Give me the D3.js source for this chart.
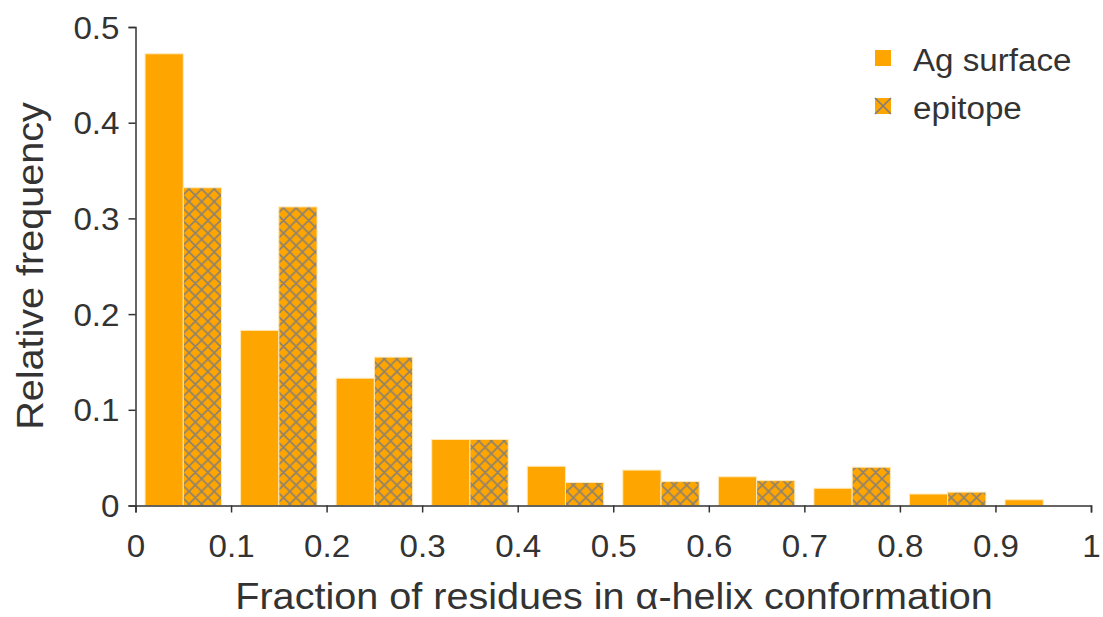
<!DOCTYPE html>
<html>
<head>
<meta charset="utf-8">
<script src="https://cdn.jsdelivr.net/npm/d3@7"></script>
<style>
  html, body { margin: 0; padding: 0; background: #fff; }
  svg { display: block; }
  text { font-family: "Liberation Sans", Arial, sans-serif; fill: #333; }
</style>
</head>
<body>
<svg id="chart" width="1103" height="617"></svg>
<script>
// Histogram bins (lower edge of each 0.1-wide bin)
const binStarts = [0, 0.1, 0.2, 0.3, 0.4, 0.5, 0.6, 0.7, 0.8, 0.9];
// Relative frequency per bin
const agSurface = [0.472, 0.183, 0.133, 0.069, 0.041, 0.037, 0.030, 0.018, 0.012, 0.006];
const epitope   = [0.332, 0.312, 0.155, 0.069, 0.024, 0.025, 0.026, 0.040, 0.014, 0];
const seriesNames = ["Ag surface", "epitope"];
const xTicks = [0, 0.1, 0.2, 0.3, 0.4, 0.5, 0.6, 0.7, 0.8, 0.9, 1];
const yTicks = [0, 0.1, 0.2, 0.3, 0.4, 0.5];

const orange = "#FFA500";
const axisColor = "#333";
const textStretch = 1.07;   // slightly wide lettering

const svg = d3.select("#chart");

const x = d3.scaleLinear().domain([0, 1]).range([135.5, 1091]);
const y = d3.scaleLinear().domain([0, 0.5]).range([505.5, 27]);

// Cross-hatch pattern for the epitope bars
const defs = svg.append("defs");
const pat = defs.append("pattern")
  .attr("id", "hatch")
  .attr("patternUnits", "userSpaceOnUse")
  .attr("width", 12.6).attr("height", 12.6);
pat.append("rect").attr("width", 12.6).attr("height", 12.6).attr("fill", orange);
pat.append("path")
  .attr("d", "M0,0L12.6,12.6M0,12.6L12.6,0M-1,1L1,-1M11.6,13.6L13.6,11.6M-1,11.6L1,13.6M11.6,-1L13.6,1")
  .attr("stroke", "#7d7d7d").attr("stroke-width", 1.6).attr("stroke-opacity", 0.9);

const rows = binStarts.map((b, i) => ({ b, ag: agSurface[i], ep: epitope[i] }));

// Ag surface bars: left half of each bin
svg.append("g").selectAll("rect")
  .data(rows)
  .join("rect")
  .attr("x", d => x(d.b + 0.01))
  .attr("width", d => x(d.b + 0.05) - x(d.b + 0.01))
  .attr("y", d => y(d.ag))
  .attr("height", d => y(0) - y(d.ag))
  .attr("fill", orange)
  .attr("stroke", "#ffe9b8").attr("stroke-width", 1);

// epitope bars: right half of each bin
svg.append("g").selectAll("rect")
  .data(rows.filter(d => d.ep > 0))
  .join("rect")
  .attr("x", d => x(d.b + 0.05))
  .attr("width", d => x(d.b + 0.09) - x(d.b + 0.05))
  .attr("y", d => y(d.ep))
  .attr("height", d => y(0) - y(d.ep))
  .attr("fill", "url(#hatch)")
  .attr("stroke", "#ffe9b8").attr("stroke-width", 1);

// Axes
const fmt = d => d === 0 ? "0" : d === 1 ? "1" : d3.format(".1f")(d);

const xAxis = svg.append("g")
  .attr("transform", `translate(0,${y(0)})`)
  .call(d3.axisBottom(x).tickValues(xTicks).tickFormat(fmt).tickSizeOuter(0).tickSize(7));
const yAxis = svg.append("g")
  .attr("transform", `translate(${x(0)},0)`)
  .call(d3.axisLeft(y).tickValues(yTicks).tickFormat(fmt).tickSizeOuter(0).tickSize(7));

[xAxis, yAxis].forEach(g => {
  g.select(".domain").attr("stroke", axisColor).attr("stroke-width", 1.5);
  g.selectAll(".tick line").attr("stroke", axisColor).attr("stroke-width", 1.5);
  g.selectAll(".tick text")
    .attr("fill", "#333")
    .style("font-family", '"Liberation Sans", Arial, sans-serif')
    .style("font-size", "31px");
});
xAxis.selectAll(".tick text")
  .attr("x", 0).attr("y", 0).attr("dy", null)
  .attr("transform", `translate(0,51) scale(${textStretch},1)`);
yAxis.selectAll(".tick text")
  .attr("x", 0).attr("dy", null).attr("y", 0)
  .attr("transform", `translate(-16,11) scale(${textStretch},1)`);

// Axis titles
svg.append("text")
  .attr("transform", `translate(614,609) scale(${textStretch},1)`)
  .attr("text-anchor", "middle")
  .style("font-size", "37px")
  .text("Fraction of residues in α-helix conformation");

svg.append("text")
  .attr("transform", `translate(43,266) rotate(-90) scale(${textStretch},1)`)
  .attr("text-anchor", "middle")
  .style("font-size", "37px")
  .text("Relative frequency");

// Legend
const legend = svg.append("g").attr("transform", "translate(875,50)");
seriesNames.forEach((name, i) => {
  const g = legend.append("g").attr("transform", `translate(0,${i * 48})`);
  g.append("rect").attr("width", 16).attr("height", 16).attr("fill", orange);
  if (i === 1) {
    g.append("path").attr("d", "M0,0L16,16M0,16L16,0")
      .attr("stroke", "#7d7d7d").attr("stroke-width", 1.6);
  }
  g.append("text")
    .attr("transform", `translate(38,21) scale(${textStretch},1)`)
    .style("font-size", "31px")
    .text(name);
});
</script>
</body>
</html>
